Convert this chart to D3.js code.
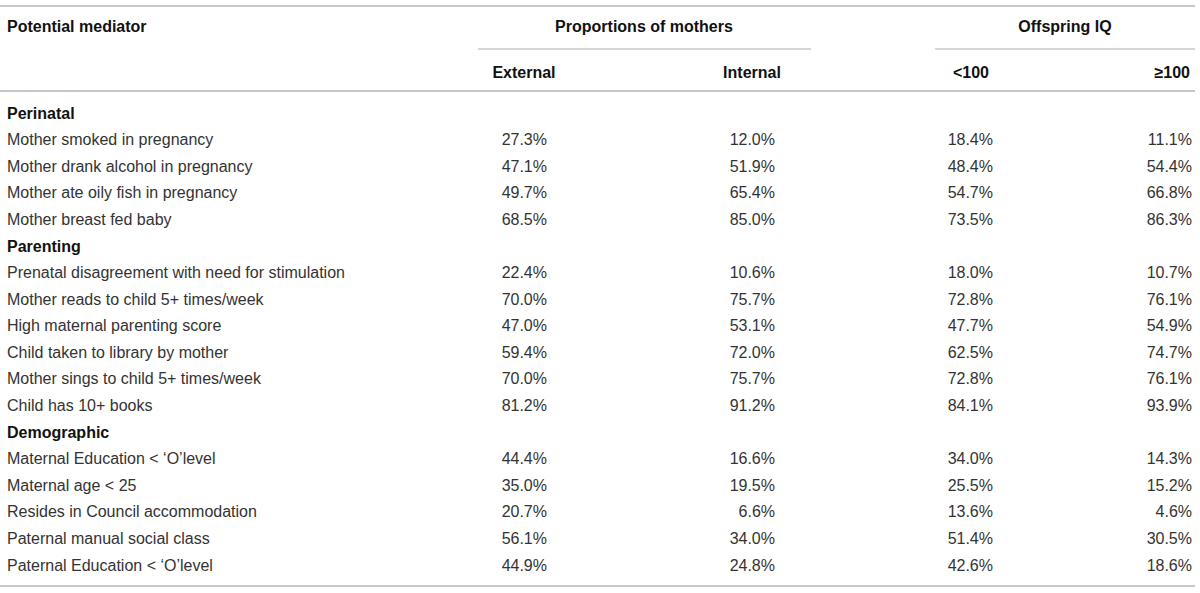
<!DOCTYPE html>
<html>
<head>
<meta charset="utf-8">
<script src="https://cdn.jsdelivr.net/npm/d3@7"></script>
<style>
  body { margin: 0; background: #fff; }
  svg text { font-family: "Liberation Sans", Arial, Helvetica, sans-serif; }
</style>
</head>
<body>
<script>
// table data
var groups = ["Perinatal", "Parenting", "Demographic"];
var groupSizes = [4, 6, 5];

var mediators = [
  "Mother smoked in pregnancy",
  "Mother drank alcohol in pregnancy",
  "Mother ate oily fish in pregnancy",
  "Mother breast fed baby",
  "Prenatal disagreement with need for stimulation",
  "Mother reads to child 5+ times/week",
  "High maternal parenting score",
  "Child taken to library by mother",
  "Mother sings to child 5+ times/week",
  "Child has 10+ books",
  "Maternal Education < \u2018O\u2019level",
  "Maternal age < 25",
  "Resides in Council accommodation",
  "Paternal manual social class",
  "Paternal Education < \u2018O\u2019level"
];

var external = [27.3, 47.1, 49.7, 68.5, 22.4, 70.0, 47.0, 59.4, 70.0, 81.2, 44.4, 35.0, 20.7, 56.1, 44.9];
var internal = [12.0, 51.9, 65.4, 85.0, 10.6, 75.7, 53.1, 72.0, 75.7, 91.2, 16.6, 19.5, 6.6, 34.0, 24.8];
var iqLow    = [18.4, 48.4, 54.7, 73.5, 18.0, 72.8, 47.7, 62.5, 72.8, 84.1, 34.0, 25.5, 13.6, 51.4, 42.6];
var iqHigh   = [11.1, 54.4, 66.8, 86.3, 10.7, 76.1, 54.9, 74.7, 76.1, 93.9, 14.3, 15.2, 4.6, 30.5, 18.6];

var spanHeaders = ["Proportions of mothers", "Offspring IQ"];
var colHeaders = ["External", "Internal", "<100", "\u2265100"];

var width = 1200, height = 593;
var svg = d3.select("body").append("svg")
  .attr("width", width)
  .attr("height", height);

// build rows: group heading then its items
var rows = [];
var k = 0;
groups.forEach(function(g, gi){
  rows.push({type: "group", label: g});
  for (var j = 0; j < groupSizes[gi]; j++) {
    rows.push({type: "item", label: mediators[k],
      vals: [external[k], internal[k], iqLow[k], iqHigh[k]]});
    k++;
  }
});

// scales
var y = d3.scalePoint()
  .domain(d3.range(rows.length))
  .range([113, 565]);

var colRight = d3.scaleOrdinal()
  .domain(d3.range(4))
  .range([547, 775, 993, 1192]);

var headCenter = d3.scaleOrdinal()
  .domain(d3.range(4))
  .range([524, 752, 971, 1190]);

var lineColor = "#c8c8c8";
var fs = 16;

// horizontal rules
function hline(x1, x2, yy, w){
  svg.append("line")
    .attr("x1", x1).attr("x2", x2)
    .attr("y1", yy).attr("y2", yy)
    .attr("stroke", lineColor)
    .attr("stroke-width", w);
}
hline(0, 1195, 6, 2);
hline(478, 811, 49, 1.5);
hline(935, 1195, 49, 1.5);
hline(0, 1195, 91, 2);
hline(0, 1195, 586, 2);

// header texts
svg.append("text")
  .attr("x", 7).attr("y", 26).attr("dy", "0.35em")
  .attr("font-size", fs).attr("font-weight", "bold").attr("fill", "#111")
  .text("Potential mediator");

svg.selectAll(".span").data(spanHeaders).enter().append("text")
  .attr("x", function(d, i){ return i === 0 ? 644 : 1065; })
  .attr("y", 26).attr("dy", "0.35em")
  .attr("text-anchor", "middle")
  .attr("font-size", fs).attr("font-weight", "bold").attr("fill", "#111")
  .text(function(d){ return d; });

svg.selectAll(".colh").data(colHeaders).enter().append("text")
  .attr("x", function(d, i){ return headCenter(i); })
  .attr("y", 72).attr("dy", "0.35em")
  .attr("text-anchor", function(d, i){ return i === 3 ? "end" : "middle"; })
  .attr("font-size", fs).attr("font-weight", "bold").attr("fill", "#111")
  .text(function(d){ return d; });

// body rows
var rowG = svg.selectAll(".row").data(rows).enter().append("g")
  .attr("transform", function(d, i){ return "translate(0," + y(i) + ")"; });

rowG.append("text")
  .attr("x", 7).attr("dy", "0.35em")
  .attr("font-size", fs)
  .attr("font-weight", function(d){ return d.type === "group" ? "bold" : "normal"; })
  .attr("fill", function(d){ return d.type === "group" ? "#111" : "#333"; })
  .text(function(d){ return d.label; });

rowG.filter(function(d){ return d.type === "item"; })
  .selectAll(".val").data(function(d){ return d.vals; }).enter().append("text")
  .attr("x", function(d, i){ return colRight(i); })
  .attr("dy", "0.35em")
  .attr("text-anchor", "end")
  .attr("font-size", fs)
  .attr("fill", "#333")
  .text(function(d){ return d.toFixed(1) + "%"; });
</script>
</body>
</html>
